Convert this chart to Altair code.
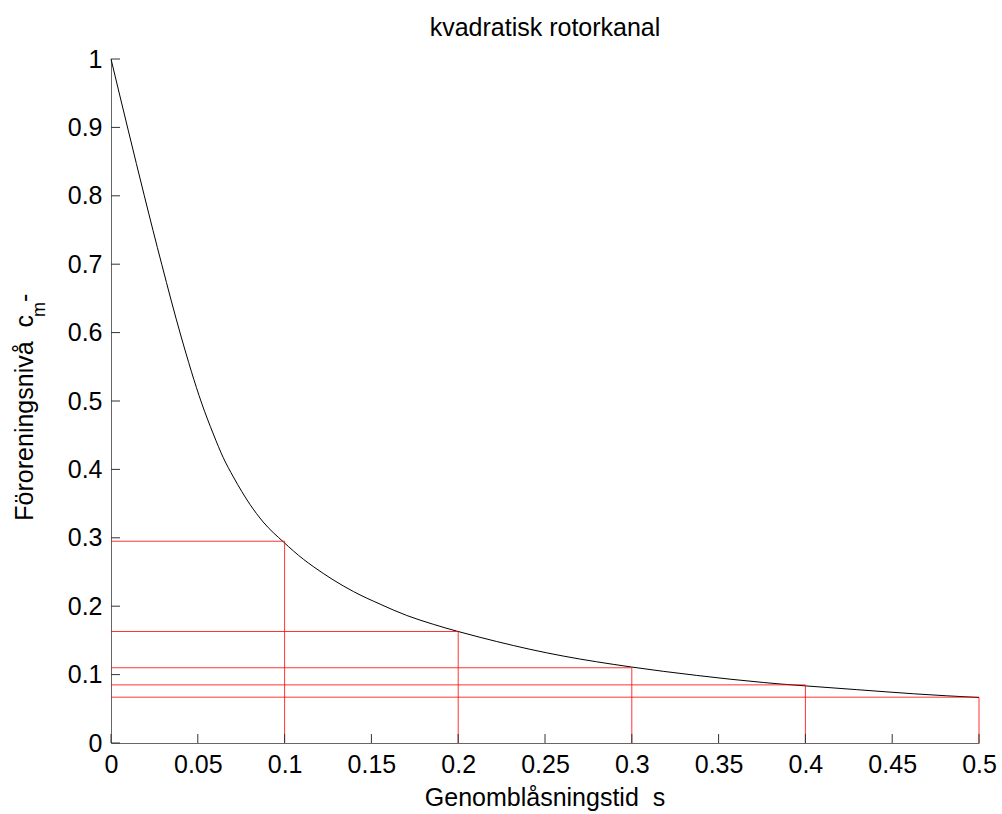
import altair as alt
import pandas as pd

# Curve: time (s) vs contamination level c_m
t_vals = [0.0, 0.0100, 0.0192, 0.0292, 0.0403, 0.0522, 0.0589, 0.0647, 0.0705,
          0.0800, 0.0877, 0.0993, 0.1109, 0.1165, 0.1280, 0.1396, 0.1550, 0.1703, 0.1857,
          0.1991, 0.2126, 0.2318, 0.2510, 0.2700, 0.2893, 0.3000, 0.3181, 0.3374, 0.3566,
          0.3757, 0.3854, 0.4000, 0.4296, 0.4622, 0.4814, 0.5000]
c_vals = [1.000, 0.895, 0.800, 0.700, 0.595, 0.497, 0.452, 0.417, 0.389,
          0.349, 0.323, 0.294, 0.2685, 0.258, 0.2385, 0.2215, 0.203, 0.1865, 0.1735,
          0.1636, 0.1545, 0.1425, 0.1318, 0.1228, 0.1150, 0.111, 0.1048, 0.0988, 0.0933,
          0.0885, 0.0863, 0.0835, 0.0780, 0.0720, 0.0690, 0.0665]

# Red marker lines
mark_t = [0.1, 0.2, 0.3, 0.4, 0.5]
mark_c = [0.295, 0.163, 0.110, 0.085, 0.067]

x_ticks = [0, 0.05, 0.1, 0.15, 0.2, 0.25, 0.3, 0.35, 0.4, 0.45, 0.5]
y_ticks = [0, 0.1, 0.2, 0.3, 0.4, 0.5, 0.6, 0.7, 0.8, 0.9, 1]

title_text = "kvadratisk rotorkanal"
xlabel_text = "Genomblåsningstid\u00a0\u00a0s"
ylabel_main = "Föroreningsnivå\u00a0\u00a0c"
ylabel_sub = "m"
ylabel_tail = "\u00a0\u00a0-"

FONT = "Liberation Sans"
W, H = 868, 684

curve_df = pd.DataFrame({"t": t_vals, "c": c_vals})
marks_df = pd.DataFrame({"t": mark_t, "c": mark_c, "x0": [0] * len(mark_t), "y0": [0] * len(mark_t)})
xt_df = pd.DataFrame({"v": x_ticks})
yt_df = pd.DataFrame({"v": y_ticks})
one = pd.DataFrame({"a": [0]})

x_scale = alt.Scale(domain=[0, 0.5], nice=False, zero=False)
y_scale = alt.Scale(domain=[0, 1], nice=False, zero=False)

x_axis = alt.Axis(values=x_ticks, title="", format="~g", ticks=False, grid=False,
                  labelPadding=9, labelFlush=False, labelOverlap=False,
                  domainColor="#666666", labelFont=FONT, labelFontSize=25, labelColor="black")
y_axis = alt.Axis(values=y_ticks, title="", format="~g", ticks=False, grid=False,
                  labelPadding=9, labelFlush=False, labelOverlap=False,
                  domainColor="#666666", labelFont=FONT, labelFontSize=25, labelColor="black")

curve = alt.Chart(curve_df).mark_line(color="black", strokeWidth=1, interpolate="monotone").encode(
    x=alt.X("t:Q", scale=x_scale, axis=x_axis),
    y=alt.Y("c:Q", scale=y_scale, axis=y_axis),
)

hlines = alt.Chart(marks_df).mark_rule(color="#ff0000", strokeWidth=1, opacity=0.8).encode(
    x=alt.X("x0:Q", scale=x_scale, axis=x_axis),
    x2="t:Q",
    y=alt.Y("c:Q", scale=y_scale, axis=y_axis),
)
vlines = alt.Chart(marks_df).mark_rule(color="#ff0000", strokeWidth=1, opacity=0.8).encode(
    x=alt.X("t:Q", scale=x_scale, axis=x_axis),
    y=alt.Y("y0:Q", scale=y_scale, axis=y_axis),
    y2="c:Q",
)

xticks = alt.Chart(xt_df).mark_rule(color="#333333", strokeWidth=1).encode(
    x=alt.X("v:Q", scale=x_scale, axis=x_axis),
    y=alt.value(H),
    y2=alt.value(H - 9),
)
yticks = alt.Chart(yt_df).mark_rule(color="#333333", strokeWidth=1).encode(
    y=alt.Y("v:Q", scale=y_scale, axis=y_axis),
    x=alt.value(0),
    x2=alt.value(9),
)

title = alt.Chart(one).mark_text(font=FONT, fontSize=25, align="center", baseline="alphabetic",
                                 color="black").encode(
    x=alt.value(W / 2), y=alt.value(-23), text=alt.value(title_text))
xlabel = alt.Chart(one).mark_text(font=FONT, fontSize=25, align="center", baseline="alphabetic",
                                  color="black").encode(
    x=alt.value(W / 2), y=alt.value(H + 63), text=alt.value(xlabel_text))
ylab1 = alt.Chart(one).mark_text(font=FONT, fontSize=25, align="right", baseline="alphabetic",
                                 angle=270, color="black").encode(
    x=alt.value(-78), y=alt.value(256), text=alt.value(ylabel_main))
ylab2 = alt.Chart(one).mark_text(font=FONT, fontSize=18, align="left", baseline="alphabetic",
                                 angle=270, color="black").encode(
    x=alt.value(-66), y=alt.value(258), text=alt.value(ylabel_sub))
ylab3 = alt.Chart(one).mark_text(font=FONT, fontSize=25, align="left", baseline="alphabetic",
                                 angle=270, color="black").encode(
    x=alt.value(-78), y=alt.value(243), text=alt.value(ylabel_tail))

chart = alt.layer(curve, hlines, vlines, xticks, yticks, title, xlabel, ylab1, ylab2, ylab3).properties(
    width=W, height=H,
    autosize=alt.AutoSizeParams(type="none"),
    padding={"left": 111, "top": 59, "right": 23, "bottom": 71},
    background="white",
).configure_view(stroke=None)

chart.save("out.html", embed_options={"renderer": "svg", "actions": False})
